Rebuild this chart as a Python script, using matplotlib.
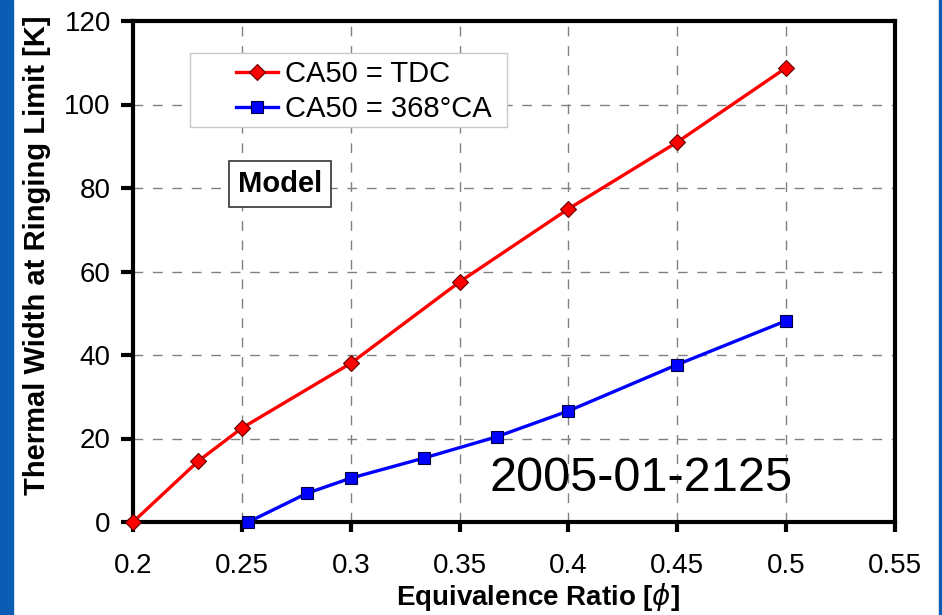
import matplotlib
matplotlib.use("Agg")
import matplotlib.pyplot as plt
from matplotlib.patches import Rectangle
from matplotlib.ticker import FuncFormatter

plt.rcParams['font.family'] = ['Liberation Sans', 'DejaVu Sans']

# datos
phi_tdc = [0.2, 0.23, 0.25, 0.3, 0.35, 0.4, 0.45, 0.5]
ancho_tdc = [0.0, 14.6, 22.5, 38.0, 57.5, 75.0, 91.0, 108.8]

phi_368 = [0.253, 0.28, 0.3, 0.3335, 0.367, 0.4, 0.45, 0.5]
ancho_368 = [0.0, 6.9, 10.5, 15.3, 20.4, 26.6, 37.7, 48.2]

etiquetas = ["CA50 = TDC", "CA50 = 368°CA"]
x_ticks = [0.2, 0.25, 0.3, 0.35, 0.4, 0.45, 0.5, 0.55]
y_ticks = [0, 20, 40, 60, 80, 100, 120]

fig = plt.figure(figsize=(9.42, 6.15), dpi=100)
W, H = 942, 615

# franjas azules de la diapositiva
fig.patches.append(Rectangle((0, 0), 13 / W, 1, transform=fig.transFigure,
                             color="#0a5cb4", zorder=0))
fig.patches.append(Rectangle((939 / W, 0), 3 / W, 1, transform=fig.transFigure,
                             color="#0a5cb4", zorder=0))

ax = fig.add_axes([133 / W, 1 - 522 / H, (895 - 133) / W, (522 - 21) / H])

ax.plot(phi_tdc, ancho_tdc, color="#ff0000", linewidth=2.4, marker="D",
        markersize=8.5, markerfacecolor="#ff0000", markeredgecolor="#600000",
        markeredgewidth=0.8, label=etiquetas[0], clip_on=False, zorder=5)
ax.plot(phi_368, ancho_368, color="#0000ff", linewidth=2.4, marker="s",
        markersize=9, markerfacecolor="#0000ff", markeredgecolor="#000040",
        markeredgewidth=0.8, label=etiquetas[1], clip_on=False, zorder=5)

ax.set_xlim(0.2, 0.55)
ax.set_ylim(0, 120)
ax.set_xticks(x_ticks)
ax.set_yticks(y_ticks)
ax.xaxis.set_major_formatter(FuncFormatter(lambda v, p: f"{v:g}"))

ax.grid(True, linestyle=(0, (7, 7)), color="#808080", linewidth=1.0)
ax.set_axisbelow(True)

for s in ax.spines.values():
    s.set_linewidth(3)
ax.tick_params(direction="out", width=3, labelsize=20)
ax.tick_params(axis="y", length=9, pad=7)
ax.tick_params(axis="x", length=7, pad=15)

ax.set_xlabel("Equivalence Ratio [$\\phi$]", fontsize=20, fontweight="bold")
ax.xaxis.set_label_coords((538 - 133) / 762, (522 - 597) / 501)
ax.xaxis.label.set_verticalalignment("center")
ax.set_ylabel("Thermal Width at Ringing Limit [K]", fontsize=21, fontweight="bold")
ax.yaxis.set_label_coords((37 - 133) / 762, (522 - 255) / 501)
ax.yaxis.label.set_verticalalignment("center")

# leyenda con marco dibujado aparte
fig.patches.append(Rectangle((190 / W, 1 - 127 / H), (507 - 190) / W, (127 - 53) / H,
                             transform=fig.transFigure, facecolor="white",
                             edgecolor="#c8c8c8", linewidth=1.0, zorder=3))
leg = fig.legend(loc="upper left", bbox_to_anchor=(236 / W, 1 - 60 / H),
                 fontsize=21, frameon=False, borderpad=0, borderaxespad=0,
                 handlelength=1.45, handletextpad=0.22, labelspacing=0.25)
leg.set_zorder(4)

ax.text(0.2675, 81.0, "Model", fontsize=21, fontweight="bold", ha="center", va="center",
        bbox=dict(boxstyle="square,pad=0.3", facecolor="white", edgecolor="#333333", linewidth=1.2))

ax.text(0.4333, 10.5, "2005-01-2125", fontsize=35, ha="center", va="center")

fig.savefig("out.png", dpi=100, facecolor="white")
